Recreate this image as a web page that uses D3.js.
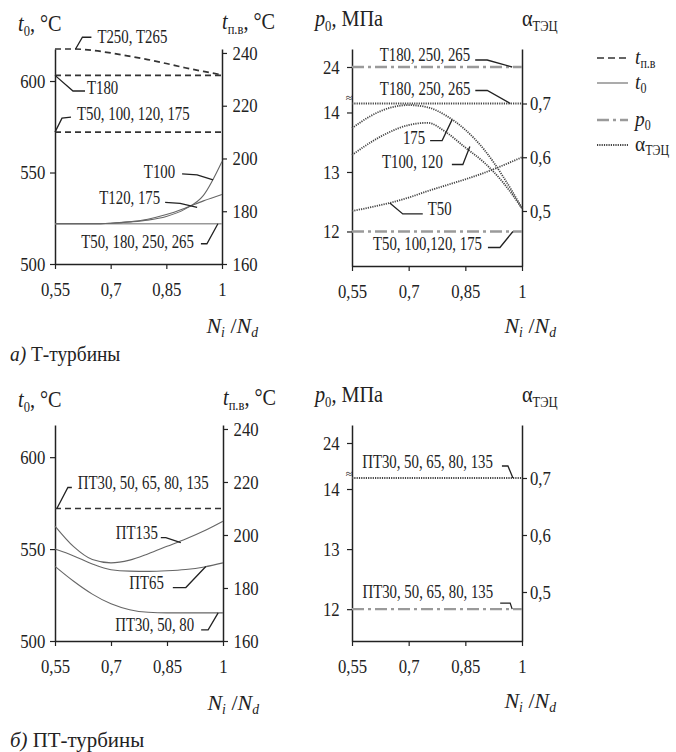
<!DOCTYPE html>
<html><head><meta charset="utf-8">
<script src="https://cdn.jsdelivr.net/npm/d3@7"></script>
<style>body{margin:0;background:#fff} svg text{font-family:"Liberation Serif","Times New Roman","DejaVu Serif",serif;}</style>
</head><body>
<svg id="c" width="676" height="752"></svg>
<script>
// ---------- DATA ----------
const nGrid = [0.55,0.6,0.65,0.7,0.75,0.8,0.85,0.9,0.95,1];
const nEnds = [0.55,1];
const xTicks = [0.55,0.7,0.85,1];
const xTickLabels = ["0,55","0,7","0,85","1"];
const t0Ticks = [500,550,600];
const tpvTicks = [160,180,200,220,240];
const p0Ticks = [12,13,14,24];
const alphaTicks = [0.5,0.6,0.7];
const alphaTickLabels = ["0,5","0,6","0,7"];

// a) Т-турбины
const tpv_T250_265 = [241.5,241.5,241,240,238.8,237.5,236,234.4,233,231.7];
const tpv_T180 = [231.5,231.5];
const tpv_T50_100_120_175 = [210,210];
const t0_T100 = [522,522,522,522.3,523,524,526,530,537.5,556];
const t0_T120_175 = [522,522,522,522.3,523,524.5,527,530.5,534.5,538];
const t0_T50_180_250_265 = [522,522];
const p0_T180_250_265 = [24,24];
const p0_T50_100_120_175 = [12,12];
const a_T180_250_265 = [0.7,0.7];
const a_T175 = [0.654,0.677,0.692,0.697,0.693,0.677,0.651,0.614,0.564,0.505];
const a_T100_120 = [0.604,0.628,0.647,0.66,0.664,0.646,0.618,0.59,0.553,0.505];
const a_T50 = [0.5,0.507,0.515,0.525,0.537,0.548,0.559,0.571,0.585,0.6];

// б) ПТ-турбины
const tpv_PT = [210,210];
const t0_PT135 = [562.5,551.3,544.3,542.5,544,547.5,551.5,555.5,560,565.2];
const t0_PT65 = [550,546.3,541.9,538.8,538,537.9,538.2,538.9,540.3,542.5];
const t0_PT30_50_80 = [540.6,532.5,525.5,520.2,517,515.6,515.3,515.3,515.3,515.3];
const a_PT = [0.7,0.7];
const p0_PT = [12,12];

// ---------- DRAWING ----------
const svg = d3.select("#c");
const FONT = '"Liberation Serif","Times New Roman","DejaVu Serif",serif';
const SX = 0.88;
const INK = "#222";

const styles = {
  tpv: {stroke:"#333", width:1.7, dash:"6,4"},
  t0:  {stroke:"#666", width:1.1, dash:null},
  p0:  {stroke:"#9a9a9a", width:2.4, dash:"12,4,3,4"},
  a:   {stroke:"#444", width:1.8, dash:"1.2,1.1"}
};

function rich(g, x, y, segs, size, anchor, sx){
  const t = g.append("text")
    .attr("transform", `translate(${x},${y}) scale(${sx || SX},1)`)
    .style("font-family", FONT).attr("font-size", size)
    .attr("fill", INK).attr("text-anchor", anchor || "start");
  let shifted = false;
  segs.forEach(s => {
    const o = typeof s === "string" ? {t:s} : s;
    const sp = t.append("tspan").text(o.t);
    if (o.i) sp.attr("font-style","italic");
    if (o.sub){
      sp.attr("font-size", size*0.62);
      if(!shifted){ sp.attr("dy", size*0.2); shifted = true; }
    } else if (shifted){ sp.attr("dy", -size*0.2); shifted = false; }
  });
  return t;
}

function styleAxis(a){
  a.attr("font-family", null).attr("font-size", null);
  a.selectAll("path.domain").attr("stroke", INK).attr("stroke-width", 1.5);
  a.selectAll(".tick line").attr("stroke", INK).attr("stroke-width", 1.2);
  a.selectAll(".tick text").style("font-family", FONT).attr("font-size", 19)
    .attr("fill", INK).attr("transform", `scale(${SX},1)`);
}

function extend(scale, yTop, yBot){
  const s = scale.copy();
  return s.domain([scale.invert(yBot), scale.invert(yTop)]).range([yBot, yTop]);
}

function drawLine(g, x, y, ns, vals, st){
  const data = ns.map((n,i)=>[n, vals[i]]);
  g.append("path").datum(data)
    .attr("fill","none").attr("stroke", st.stroke).attr("stroke-width", st.width)
    .attr("stroke-dasharray", st.dash)
    .attr("d", d3.line().x(d=>x(d[0])).y(d=>y(d[1])).curve(d3.curveMonotoneX));
}

function annot(g, x, y, n, v, pts, tOff, text, anchor){
  const ax = x(n), ay = y(v);
  g.append("path")
    .attr("d", d3.line()(pts.map(p=>[ax+p[0], ay+p[1]])))
    .attr("fill","none").attr("stroke", INK).attr("stroke-width", 1.3);
  rich(g, ax+tOff[0], ay+tOff[1], [text], 19, anchor, 0.78);
}

function xAxis(g, x, yb, pad){
  const a = g.append("g").attr("transform", `translate(0,${yb})`)
    .call(d3.axisBottom(x).tickValues(xTicks).tickFormat((d,i)=>xTickLabels[i])
      .tickSize(5).tickSizeOuter(0).tickPadding(pad));
  styleAxis(a);
}

const tTitle = [{t:"t",i:true},{t:"0",sub:true},", °C"];
const tpvTitle = [{t:"t",i:true},{t:"п.в",sub:true},", °C"];
const pTitle = [{t:"p",i:true},{t:"0",sub:true},", МПа"];
const aTitle = ["α",{t:"ТЭЦ",sub:true}];
const nTitle = [{t:"N",i:true},{t:"i",sub:true,i:true},"  /",{t:"N",i:true},{t:"d",sub:true,i:true}];

function tempPanel(cfg){
  const g = svg.append("g");
  const x = d3.scaleLinear([0.55,1],[cfg.x0,cfg.x1]);
  const yL = d3.scaleLinear([500,617.5],[cfg.yb,cfg.yt]);
  const yR = d3.scaleLinear([160,241.5],[cfg.yb,cfg.yt]);
  const aL = g.append("g").attr("transform",`translate(${cfg.x0},0)`)
    .call(d3.axisLeft(yL).tickValues(t0Ticks).tickSize(5).tickSizeOuter(0).tickPadding(6));
  styleAxis(aL);
  const aR = g.append("g").attr("transform",`translate(${cfg.x1},0)`)
    .call(d3.axisRight(yR).tickValues(tpvTicks).tickSize(5).tickSizeOuter(0).tickPadding(7));
  styleAxis(aR);
  xAxis(g, x, cfg.yb, 14);
  rich(g, 18, cfg.yt-18, tTitle, 23);
  rich(g, cfg.x1, cfg.yt-20, tpvTitle, 23);
  rich(g, cfg.x1+36, cfg.yb+69, nTitle, 22, "end", 1);
  return {g, x, yL, yR};
}

function presPanel(cfg){
  const g = svg.append("g");
  const x = d3.scaleLinear([0.55,1],[cfg.x0,cfg.x1]);
  const yP = d3.scaleLinear().domain(cfg.pDom).range(cfg.pRng);
  const yA = extend(d3.scaleLinear([0.5,0.7],cfg.aRng), cfg.yt, cfg.yb);
  const aL = g.append("g").attr("transform",`translate(${cfg.x0},0)`)
    .call(d3.axisLeft(yP).tickValues(p0Ticks).tickSize(5).tickSizeOuter(0).tickPadding(9));
  styleAxis(aL);
  const aR = g.append("g").attr("transform",`translate(${cfg.x1},0)`)
    .call(d3.axisRight(yA).tickValues(alphaTicks).tickFormat((d,i)=>alphaTickLabels[i])
      .tickSize(5).tickSizeOuter(0).tickPadding(4));
  styleAxis(aR);
  xAxis(g, x, cfg.yb, 14);
  g.append("text").attr("x", cfg.x0-3).attr("y", yP(14.25)+4).attr("text-anchor","middle")
    .style("font-family", FONT).attr("font-size", 12).attr("fill", INK).text("≈");
  rich(g, 315, cfg.yt-23, pTitle, 23);
  rich(g, cfg.x1, cfg.yt-23, aTitle, 23);
  rich(g, cfg.x1+34, cfg.yb+67, nTitle, 22, "end", 1);
  return {g, x, yP, yA};
}

// ===== а) T-turbines =====
const TL = tempPanel({x0:55, x1:222, yt:49, yb:264});
drawLine(TL.g, TL.x, TL.yR, nGrid, tpv_T250_265, styles.tpv);
drawLine(TL.g, TL.x, TL.yR, nEnds, tpv_T180, styles.tpv);
drawLine(TL.g, TL.x, TL.yR, nEnds, tpv_T50_100_120_175, styles.tpv);
drawLine(TL.g, TL.x, TL.yL, nEnds, t0_T50_180_250_265, {stroke:"#999", width:1.6, dash:null});
drawLine(TL.g, TL.x, TL.yL, nGrid, t0_T120_175, styles.t0);
drawLine(TL.g, TL.x, TL.yL, nGrid, t0_T100, styles.t0);
annot(TL.g, TL.x, TL.yR, 0.605, 241.4, [[0,0],[7,-12],[16,-12]], [22,-6], "Т250, Т265");
annot(TL.g, TL.x, TL.yR, 0.55, 231.5, [[0,0],[18,15.6],[30,15.6]], [32,19], "Т180");
annot(TL.g, TL.x, TL.yR, 0.55, 210, [[0,0],[7,-14],[16,-15]], [22,-12.5], "Т50, 100, 120, 175");
annot(TL.g, TL.x, TL.yL, 0.976, 546, [[0,0],[-16,-5],[-31,-6]], [-38,-2], "Т100", "end");
annot(TL.g, TL.x, TL.yL, 0.933, 531, [[0,0],[-17,-4],[-32,-5]], [-37,-3], "Т120, 175", "end");
annot(TL.g, TL.x, TL.yL, 0.989, 522, [[0,0],[-11,20],[-17,20]], [-24,24], "Т50, 180, 250, 265", "end");

const TR = presPanel({x0:352, x1:522, yt:49, yb:266,
  pDom:[11.42,14.25,23.6,24,24.35], pRng:[266,97.6,94,67,49], aRng:[211,103.5]});
drawLine(TR.g, TR.x, TR.yP, nEnds, p0_T180_250_265, styles.p0);
drawLine(TR.g, TR.x, TR.yP, nEnds, p0_T50_100_120_175, styles.p0);
drawLine(TR.g, TR.x, TR.yA, nEnds, a_T180_250_265, styles.a);
drawLine(TR.g, TR.x, TR.yA, nGrid, a_T175, styles.a);
drawLine(TR.g, TR.x, TR.yA, nGrid, a_T100_120, styles.a);
drawLine(TR.g, TR.x, TR.yA, nGrid, a_T50, styles.a);
annot(TR.g, TR.x, TR.yP, 0.974, 24, [[0,0],[-25,-7],[-37,-7]], [-42,-6], "Т180, 250, 265", "end");
annot(TR.g, TR.x, TR.yA, 0.969, 0.7, [[0,0],[-23,-13],[-35,-13]], [-40,-9], "Т180, 250, 265", "end");
annot(TR.g, TR.x, TR.yA, 0.815, 0.67, [[0,0],[-10,21],[-22,21]], [-27,24], "175", "end");
annot(TR.g, TR.x, TR.yA, 0.862, 0.62, [[0,0],[-7,18],[-18,18]], [-27,21], "Т100, 120", "end");
annot(TR.g, TR.x, TR.yA, 0.65, 0.515, [[0,0],[13,11],[33,11]], [38,12], "Т50");
annot(TR.g, TR.x, TR.yP, 0.976, 12, [[0,0],[-13,16],[-25,16]], [-31,19], "Т50, 100,120, 175", "end");

// ===== б) PT-turbines =====
const BL = tempPanel({x0:55, x1:223, yt:425, yb:641});
drawLine(BL.g, BL.x, BL.yR, nEnds, tpv_PT, styles.tpv);
drawLine(BL.g, BL.x, BL.yL, nGrid, t0_PT135, styles.t0);
drawLine(BL.g, BL.x, BL.yL, nGrid, t0_PT65, styles.t0);
drawLine(BL.g, BL.x, BL.yL, nGrid, t0_PT30_50_80, styles.t0);
annot(BL.g, BL.x, BL.yR, 0.555, 210, [[0,0],[11,-21],[15,-21]], [21,-19], "ПТ30, 50, 65, 80, 135");
annot(BL.g, BL.x, BL.yL, 0.887, 553.5, [[0,0],[-15,-5],[-20,-5]], [-23,-4], "ПТ135", "end");
annot(BL.g, BL.x, BL.yL, 0.954, 540.5, [[0,0],[-20,21],[-33,21]], [-42,22], "ПТ65", "end");
annot(BL.g, BL.x, BL.yL, 0.987, 515.3, [[0,0],[-10,17],[-17,17]], [-24,18], "ПТ30, 50, 80", "end");

const BR = presPanel({x0:352, x1:522, yt:425, yb:641,
  pDom:[11.47,14.25,23.6,24,24.35], pRng:[641,474,470,443,425], aRng:[592,478]});
drawLine(BR.g, BR.x, BR.yA, nEnds, a_PT, styles.a);
drawLine(BR.g, BR.x, BR.yP, nEnds, p0_PT, styles.p0);
annot(BR.g, BR.x, BR.yA, 0.976, 0.7, [[0,0],[-5,-12],[-11,-12]], [-20,-10], "ПТ30, 50, 65, 80, 135", "end");
annot(BR.g, BR.x, BR.yP, 0.974, 12, [[0,0],[-2,-6],[-12,-6]], [-19,-11], "ПТ30, 50, 65, 80, 135", "end");

// captions
rich(svg, 10, 361, [{t:"а)",i:true}," Т-турбины"], 22);
rich(svg, 10, 747, [{t:"б)",i:true}," ПТ-турбины"], 22, "start", 0.95);

// legend
const legend = [
  {st:styles.tpv, segs:[{t:"t",i:true},{t:"п.в",sub:true}], dash:"7,4"},
  {st:styles.t0, segs:[{t:"t",i:true},{t:"0",sub:true}], dash:null},
  {st:styles.p0, segs:[{t:"p",i:true},{t:"0",sub:true}], dash:"12,4,3,4"},
  {st:styles.a, segs:["α",{t:"ТЭЦ",sub:true}], dash:"1.2,1.1"}
];
const legY = [58,83,120,145];
legend.forEach((L,i)=>{
  svg.append("line").attr("x1",597).attr("x2",628).attr("y1",legY[i]).attr("y2",legY[i])
    .attr("stroke",L.st.stroke).attr("stroke-width",L.st.width).attr("stroke-dasharray",L.dash);
  rich(svg, 635, legY[i]+6, L.segs, 22);
});
</script>
</body></html>
